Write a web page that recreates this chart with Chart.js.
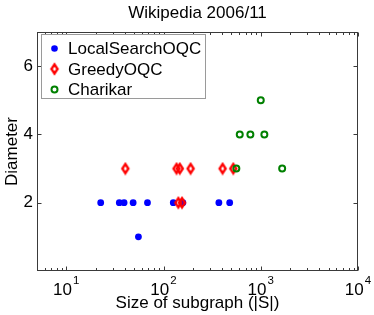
<!DOCTYPE html>
<html><head><meta charset="utf-8">
<script src="https://cdn.jsdelivr.net/npm/chart.js@4.4.1/dist/chart.umd.min.js"></script>
<style>html,body{margin:0;padding:0;background:#fff}#wrap{width:374px;height:315px}</style>
</head><body><div id="wrap"><canvas id="c" width="374" height="315"></canvas></div>
<script>
const titleText = 'Wikipedia 2006/11';
const xLabel = 'Size of subgraph (|S|)';
const yLabel = 'Diameter';
const seriesNames = ['LocalSearchOQC', 'GreedyOQC', 'Charikar'];

const localSizes = [22.6, 35.1, 39.3, 48.7, 68.4, 126, 158, 371, 479, 55.2];
const localDiam  = [2, 2, 2, 2, 2, 2, 2, 2, 2, 1];
const greedySizes = [40.5, 136, 147, 190, 405, 522, 142, 155];
const greedyDiam  = [3, 3, 3, 3, 3, 3, 2, 2];
const charikarSizes = [1000, 608, 782, 1089, 561, 1660];
const charikarDiam  = [5, 4, 4, 4, 3, 3];

const xTickValues = [10, 100, 1000, 10000];
const xTickBase = ['10', '10', '10', '10'];
const xTickExp = ['1', '2', '3', '4'];
const xMinorValues = [5,6,7,8,9,20,30,40,50,60,70,80,90,200,300,400,500,600,700,800,900,2000,3000,4000,5000,6000,7000,8000,9000];
const yTickValues = [2, 4, 6];

const FONT = "'Liberation Sans', Arial, Helvetica, sans-serif";
Chart.defaults.font.family = FONT;

function pts(xs, ys) { return xs.map((x, i) => ({ x: x, y: ys[i] })); }

function diamondCanvas() {
  const c = document.createElement('canvas');
  c.width = 12; c.height = 14;
  const g = c.getContext('2d');
  g.strokeStyle = '#ff0000'; g.lineWidth = 2.4; g.lineJoin = 'miter';
  g.beginPath();
  g.moveTo(6, 2.4); g.lineTo(9, 7); g.lineTo(6, 11.6); g.lineTo(3, 7);
  g.closePath(); g.stroke();
  return c;
}
const diamond = diamondCanvas();

const decoPlugin = {
  id: 'deco',
  beforeDatasetsDraw(chart) {
    const { ctx, chartArea: a, scales: { x, y } } = chart;
    ctx.save();
    ctx.strokeStyle = '#3a3a3a'; ctx.lineWidth = 1;
    const L = Math.round(a.left) + 0.5, R = Math.round(a.right) - 0.5;
    const T = Math.round(a.top) + 0.5, B = Math.round(a.bottom) - 0.5;
    ctx.strokeRect(L, T, R - L, B - T);
    ctx.beginPath();
    xTickValues.forEach(v => {
      const px = Math.round(x.getPixelForValue(v)) + 0.5;
      ctx.moveTo(px, B); ctx.lineTo(px, B - 4);
      ctx.moveTo(px, T); ctx.lineTo(px, T + 4);
    });
    xMinorValues.forEach(v => {
      const px = Math.round(x.getPixelForValue(v)) + 0.5;
      ctx.moveTo(px, B); ctx.lineTo(px, B - 2.5);
      ctx.moveTo(px, T); ctx.lineTo(px, T + 2.5);
    });
    yTickValues.forEach(v => {
      const py = Math.round(y.getPixelForValue(v)) + 0.5;
      ctx.moveTo(L, py); ctx.lineTo(L + 4, py);
      ctx.moveTo(R, py); ctx.lineTo(R - 4, py);
    });
    ctx.stroke();
    ctx.restore();
  },
  afterDraw(chart) {
    const { ctx, chartArea: a, scales: { x } } = chart;
    ctx.save();
    ctx.fillStyle = '#000';
    ctx.textBaseline = 'alphabetic';
    ctx.textAlign = 'left';
    xTickValues.forEach((v, i) => {
      const px = x.getPixelForValue(v);
      ctx.font = '17px ' + FONT;
      const w1 = ctx.measureText(xTickBase[i]).width;
      ctx.font = '11.5px ' + FONT;
      const w2 = ctx.measureText(xTickExp[i]).width;
      const sx = px - (w1 + w2 + 1) / 2;
      ctx.font = '17px ' + FONT;
      ctx.fillText(xTickBase[i], sx, a.bottom + 24);
      ctx.font = '11.5px ' + FONT;
      ctx.fillText(xTickExp[i], sx + w1 + 1, a.bottom + 12.5);
    });
    const lx = Math.round(a.left) + 4, ly = Math.round(a.top) + 2;
    const lw = 165, lh = 65;
    ctx.fillStyle = '#fff';
    ctx.fillRect(lx, ly, lw, lh);
    ctx.strokeStyle = '#9a9a9a'; ctx.lineWidth = 1;
    ctx.strokeRect(lx + 0.5, ly + 0.5, lw - 1, lh - 1);
    const rows = [ly + 14.5, ly + 35, ly + 55.5];
    const mx = lx + 13.5;
    chart.data.datasets.forEach((ds, i) => {
      const ry = rows[i];
      if (i === 0) {
        ctx.fillStyle = ds.backgroundColor;
        ctx.beginPath(); ctx.arc(mx, ry, 3.3, 0, Math.PI * 2); ctx.fill();
      } else if (i === 1) {
        ctx.drawImage(diamond, mx - 6, ry - 7);
      } else {
        ctx.strokeStyle = ds.borderColor; ctx.lineWidth = 2;
        ctx.beginPath(); ctx.arc(mx, ry, 3, 0, Math.PI * 2); ctx.stroke();
      }
      ctx.fillStyle = '#000';
      ctx.font = '17px ' + FONT;
      ctx.textBaseline = 'middle';
      ctx.fillText(ds.label, lx + 27, ry + 1);
    });
    ctx.restore();
  }
};

new Chart(document.getElementById('c'), {
  type: 'scatter',
  data: {
    datasets: [
      { label: seriesNames[0], data: pts(localSizes, localDiam), order: 3,
        pointStyle: 'circle', pointRadius: 3.4, pointHoverRadius: 3.4,
        backgroundColor: '#0000ff', borderColor: '#0000ff', borderWidth: 0 },
      { label: seriesNames[1], data: pts(greedySizes, greedyDiam), order: 2,
        pointStyle: diamond, pointRadius: 5, backgroundColor: '#ff0000', borderColor: '#ff0000' },
      { label: seriesNames[2], data: pts(charikarSizes, charikarDiam), order: 1,
        pointStyle: 'circle', pointRadius: 3, pointHoverRadius: 3,
        backgroundColor: 'rgba(0,0,0,0)', borderColor: '#008000', borderWidth: 2 }
    ]
  },
  options: {
    responsive: false, animation: false, devicePixelRatio: 1,
    layout: { padding: { left: 0, right: 16, top: 0, bottom: 0 } },
    plugins: {
      legend: { display: false },
      tooltip: { enabled: false },
      title: { display: true, text: titleText, fullSize: false, color: '#000',
        font: { size: 17, weight: 'normal', family: FONT }, padding: { top: 3, bottom: 8.6 } }
    },
    scales: {
      x: { type: 'logarithmic', min: 5, max: 10000,
        grid: { display: false, drawTicks: false }, border: { display: false },
        ticks: { display: false },
        title: { display: true, text: xLabel, color: '#000', font: { size: 17, family: FONT }, padding: { top: 0, bottom: 1 } },
        afterFit(s) { s.height = 44; } },
      y: { min: 0, max: 7,
        grid: { display: false, drawTicks: false }, border: { display: false },
        ticks: { color: '#000', font: { size: 17, family: FONT }, padding: 4 },
        afterBuildTicks(s) { s.ticks = yTickValues.map(v => ({ value: v })); },
        title: { display: true, text: yLabel, color: '#000', font: { size: 17, family: FONT }, padding: { top: 2, bottom: 0 } },
        afterFit(s) { s.width = 37; } }
    }
  },
  plugins: [decoPlugin]
});
</script></body></html>
